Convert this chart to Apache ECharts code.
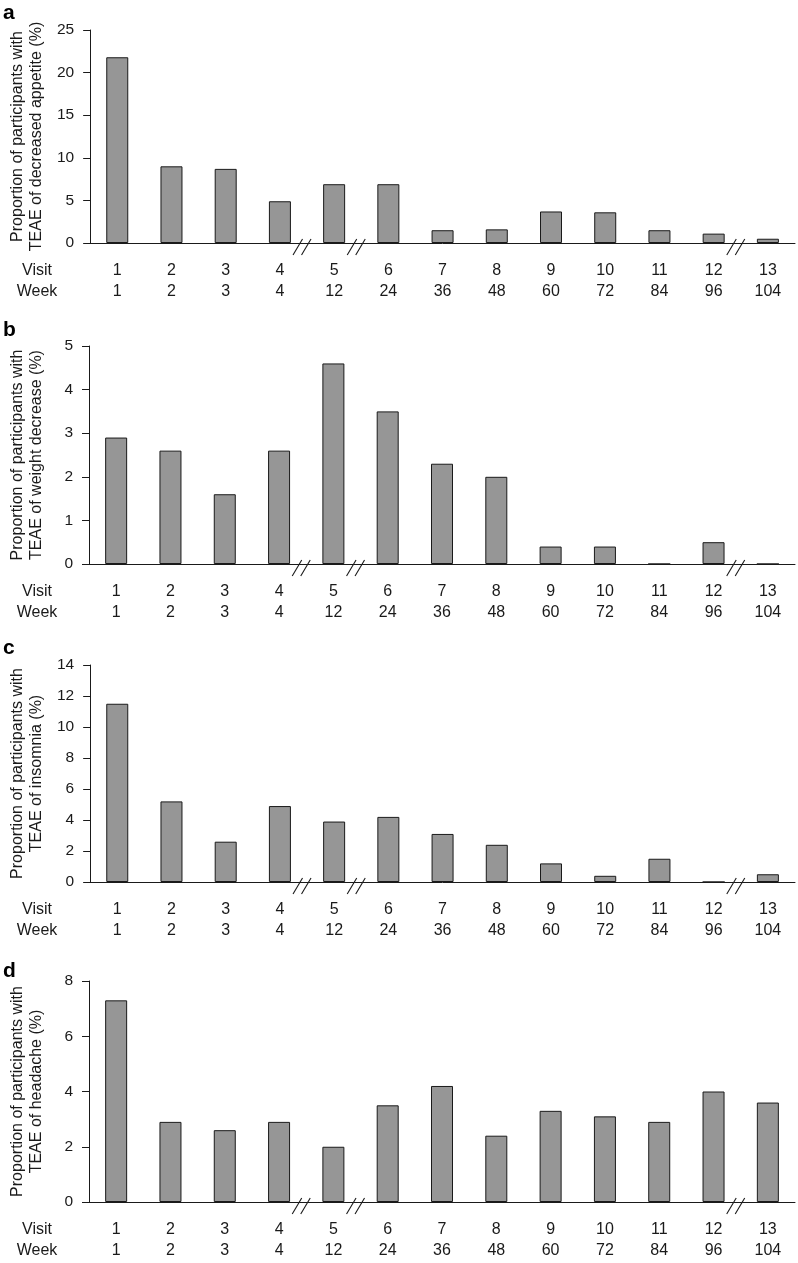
<!DOCTYPE html>
<html>
<head>
<meta charset="utf-8">
<script src="https://cdn.jsdelivr.net/npm/echarts@6/dist/echarts.min.js"></script>
<style>
html,body{margin:0;padding:0;background:#fff;}
#c{width:798px;height:1263px;}
</style>
</head>
<body>
<div id="c"></div>
<script>
const visits = ['1','2','3','4','5','6','7','8','9','10','11','12','13'];
const weeks = ['1','2','3','4','12','24','36','48','60','72','84','96','104'];
const appetite = [21.8, 9.0, 8.7, 4.9, 6.9, 6.9, 1.5, 1.6, 3.7, 3.6, 1.5, 1.1, 0.5];
const weightDecrease = [2.9, 2.6, 1.6, 2.6, 4.6, 3.5, 2.3, 2.0, 0.4, 0.4, 0, 0.5, 0];
const insomnia = [11.5, 5.2, 2.6, 4.9, 3.9, 4.2, 3.1, 2.4, 1.2, 0.4, 1.5, 0, 0.5];
const headache = [7.3, 2.9, 2.6, 2.9, 2.0, 3.5, 4.2, 2.4, 3.3, 3.1, 2.9, 4.0, 3.6];
const panelLetters = ['a','b','c','d'];
const yTitles = [
  'Proportion of participants with\nTEAE of decreased appetite (%)',
  'Proportion of participants with\nTEAE of weight decrease (%)',
  'Proportion of participants with\nTEAE of insomnia (%)',
  'Proportion of participants with\nTEAE of headache (%)'
];
const yMax = [25, 5, 14, 8];
const yInterval = [5, 1, 2, 2];
const breakAfter = [3, 4, 11]; // break marks between index i and i+1

const seriesData = [appetite, weightDecrease, insomnia, headache];
const FONT = "'Liberation Sans', Arial, Helvetica, sans-serif";
const INK = '#1a1a1a';
const grids = [
  {top: 30, height: 213},
  {top: 346, height: 218},
  {top: 665, height: 217},
  {top: 981, height: 221}
];
const letterY = [13, 330, 648, 971];

const chart = echarts.init(document.getElementById('c'), null, {renderer: 'canvas'});

const option = {
  animation: false,
  backgroundColor: '#fff',
  textStyle: {fontFamily: FONT, color: INK},
  grid: grids.map(g => ({left: 89, right: 3, top: g.top, height: g.height, containLabel: false})),
  xAxis: grids.map((g, i) => ({
    type: 'category',
    gridIndex: i,
    data: visits,
    boundaryGap: true,
    axisLine: {show: true, lineStyle: {color: INK, width: 1}},
    axisTick: {show: false},
    splitLine: {show: false},
    axisLabel: {
      interval: 0,
      margin: 17,
      fontSize: 16,
      lineHeight: 21,
      color: INK,
      fontFamily: FONT,
      formatter: (v, idx) => v + '\n' + weeks[idx]
    }
  })),
  yAxis: grids.map((g, i) => ({
    type: 'value',
    gridIndex: i,
    min: 0,
    max: yMax[i],
    interval: yInterval[i],
    name: yTitles[i],
    nameLocation: 'middle',
    nameRotate: 90,
    nameGap: 43,
    nameTextStyle: {fontSize: 16, lineHeight: 19, color: INK, fontFamily: FONT, align: 'center'},
    axisLine: {show: true, lineStyle: {color: INK, width: 1}},
    axisTick: {show: true, length: 7, lineStyle: {color: INK, width: 1}},
    splitLine: {show: false},
    axisLabel: {fontSize: 15.5, margin: 16, color: INK, fontFamily: FONT}
  })),
  series: seriesData.map((d, i) => ({
    type: 'bar',
    xAxisIndex: i,
    yAxisIndex: i,
    data: d,
    barWidth: 22,
    itemStyle: {color: '#969696', borderColor: INK, borderWidth: 1}
  }))
};
chart.setOption(option);

// Extra graphics: panel letters, Visit/Week headers, axis break marks
const graphics = [];
grids.forEach((g, i) => {
  const base = chart.convertToPixel({gridIndex: i}, [0, 0]);
  const axisY = base[1];
  graphics.push({
    type: 'text', x: 3, y: letterY[i],
    style: {text: panelLetters[i], font: 'bold 21px ' + FONT, fill: '#000', verticalAlign: 'middle', align: 'left'}
  });
  graphics.push({
    type: 'text', x: 37, y: axisY + 28,
    style: {text: 'Visit', font: '16px ' + FONT, fill: INK, align: 'center', verticalAlign: 'middle'}
  });
  graphics.push({
    type: 'text', x: 37, y: axisY + 49,
    style: {text: 'Week', font: '16px ' + FONT, fill: INK, align: 'center', verticalAlign: 'middle'}
  });
  breakAfter.forEach(k => {
    const p1 = chart.convertToPixel({gridIndex: i}, [k, 0]);
    const p2 = chart.convertToPixel({gridIndex: i}, [k + 1, 0]);
    const mid = (p1[0] + p2[0]) / 2;
    [-14, -5.5].forEach(off => {
      graphics.push({
        type: 'line',
        shape: {x1: mid + off, y1: axisY + 12, x2: mid + off + 9.5, y2: axisY - 4},
        style: {stroke: INK, lineWidth: 1.1}
      });
    });
  });
});
chart.setOption({graphic: graphics});
</script>
</body>
</html>
